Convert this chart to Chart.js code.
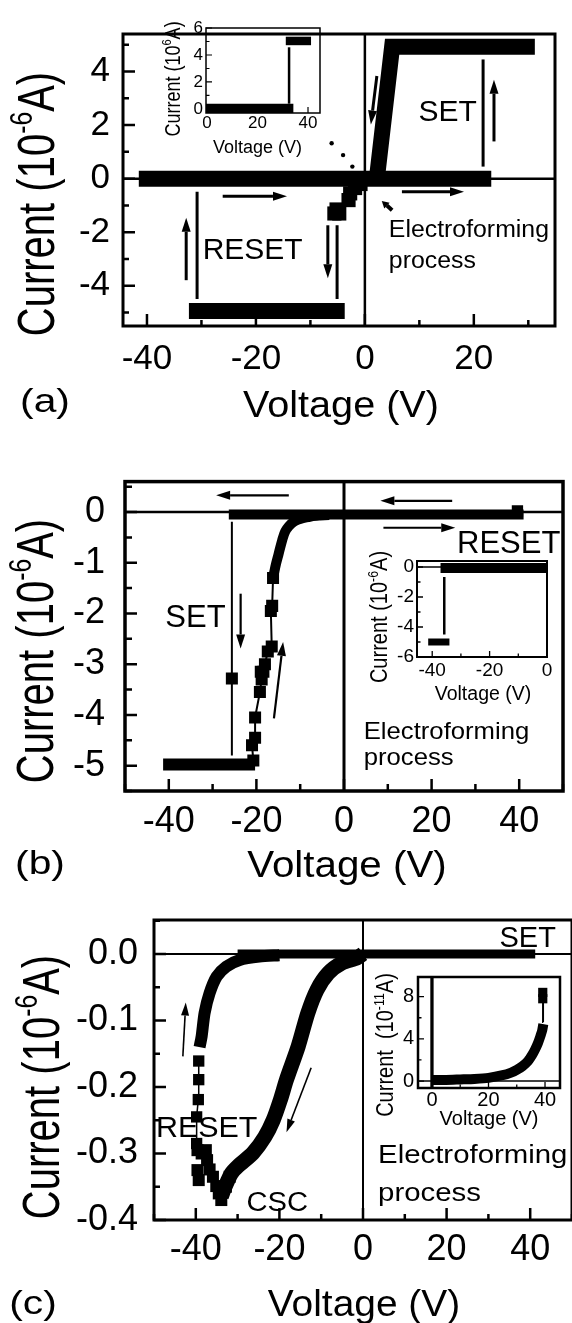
<!DOCTYPE html>
<html>

<head>
    <meta charset="utf-8">
    <title>I-V switching curves</title>
    <script src="https://cdn.jsdelivr.net/npm/chart.js"></script>
    <style>
        body {
            margin: 0;
            background: #fff;
            width: 572px;
            height: 1323px;
            overflow: hidden;
            position: relative;
        }

        canvas {
            position: absolute;
        }
    </style>
</head>

<body>
    <canvas id="chartA" width="572" height="440" style="left:0;top:0"></canvas>
    <canvas id="chartB" width="572" height="470" style="left:0;top:440px"></canvas>
    <canvas id="chartC" width="580" height="443" style="left:0;top:880px"></canvas>
    <canvas id="insetA" width="190" height="160" style="left:150px;top:0"></canvas>
    <canvas id="insetB" width="212" height="172" style="left:360px;top:540px"></canvas>
    <canvas id="insetC" width="207" height="172" style="left:365px;top:960px"></canvas>

    <script>
        // ---- data, [voltage, current] ----
        // (a)
        const aZeroBand = [[-41.5, 0], [23.2, 0]];
        const aSetBranch = [[2.2, 0], [5.0, 4.92], [31.2, 4.92]];
        const aResetBand = [[-32.3, -4.94], [-3.7, -4.94]];
        const aJumpReset = [[-30.8, -0.49], [-30.8, -4.49]];
        const aJumpNeg = [[-5.1, -1.74], [-5.1, -4.49]];
        const aJumpSet = [[21.7, 0.45], [21.7, 4.45]];
        const aStepPts = [[-5.6, -1.3], [-4.7, -1.3], [-5.2, -1.15], [-3.0, -0.8], [-2.7, -0.55], [-1.8, -0.35], [-0.8, -0.2]];
        const aDots = [[-6.1, 1.32], [-4.0, 0.88], [-2.3, 0.45]];
        // (a) inset
        const aInsLow = [[-0.4, 0.02], [34.2, 0.02]];
        const aInsJump = [[32.5, 0.39], [32.5, 4.57]];
        const aInsHigh = [[31.2, 5.04], [41.2, 5.04]];

        // (b)
        const bTopBand = [[-26.3, -0.05], [41.0, -0.05]];
        const bEndPt = [[39.6, 0.02]];
        const bLowBand = [[-41.3, -4.98], [-20.3, -4.98]];
        const bSetJump = [[-25.6, -0.19], [-25.6, -4.8]];
        const bSetPt = [[-25.6, -3.28]];
        const bRecover = [[-20.7, -4.9], [-21.0, -4.6], [-20.3, -4.45], [-20.3, -4.05], [-19.2, -3.55], [-18.8, -3.3],
            [-19.0, -3.15], [-18.4, -3.15], [-18.05, -3.0], [-17.4, -2.75], [-16.5, -2.65], [-16.7, -1.95], [-16.4, -1.85], [-16.2, -1.3]];
        const bKnee = [[-16.2, -1.3], [-15.6, -1.05], [-15.0, -0.85], [-14.5, -0.68], [-14.0, -0.52], [-13.4, -0.38],
            [-12.6, -0.28], [-11.6, -0.2], [-10.5, -0.15], [-9.4, -0.12], [-8.2, -0.1], [-7.1, -0.08], [-5.5, -0.07], [-3.4, -0.06]];
        // (b) inset
        const bInsTop = [[-37.1, -0.07], [0, -0.07]];
        const bInsJump = [[-35.8, -0.67], [-35.8, -4.5]];
        const bInsLow = [[-41.4, -5.0], [-34.0, -5.0]];

        // (c)
        const cSetBand = [[-30, 0], [41.2, 0]];
        const cRightBranch = [[0, 0], [-1.4, -0.006], [-5.1, -0.014], [-8.3, -0.029], [-11.0, -0.054], [-13.2, -0.089],
            [-15.5, -0.139], [-18.3, -0.189], [-19.8, -0.22], [-21.5, -0.25], [-23.5, -0.275], [-26.3, -0.299],
            [-29.9, -0.319], [-31.5, -0.33], [-33.0, -0.35], [-33.9, -0.365]];
        const cBottomPts = [[-33.9, -0.37], [-34.5, -0.36], [-35.1, -0.349], [-35.9, -0.335], [-36.7, -0.324],
            [-37.3, -0.31], [-37.6, -0.295], [-38.6, -0.3], [-39.6, -0.295], [-39.6, -0.325], [-39.3, -0.34],
            [-32.8, -0.35], [-31.9, -0.335]];
        const cLeftLow = [[-39.8, -0.285], [-39.8, -0.245], [-39.4, -0.219], [-39.3, -0.189], [-39.3, -0.161]];
        const cLeftBranch = [[-39.1, -0.14], [-38.6, -0.124], [-37.9, -0.089], [-36.7, -0.059], [-35.0, -0.034],
            [-32.7, -0.019], [-29.5, -0.009], [-24.8, -0.004], [-20, -0.002]];
        // (c) inset, current in 1e-11 A
        const cInsCurve = [[0, 0.1], [5, 0.1], [10, 0.15], [15, 0.2], [20, 0.3], [25, 0.55], [28, 0.8], [30, 1.05],
            [32, 1.4], [34, 1.9], [35.5, 2.5], [36.5, 3.0], [37.5, 3.6], [38.3, 4.2], [39, 4.8], [39.4, 5.4]];
        const cInsJump = [[39.4, 5.6], [39.3, 7.4]];
        const cInsTop = [[39.2, 7.8], [39.2, 8.4]];

        const FONT = "'Liberation Sans', Arial, Helvetica, sans-serif";
        Chart.defaults.font.family = FONT;
        Chart.defaults.color = '#000';

        const P = arr => arr.map(([x, y]) => ({ x, y }));
        const band = (arr, w, tension) => ({
            data: P(arr), showLine: true, borderColor: '#000', borderWidth: w,
            pointRadius: 0, tension: tension || 0
        });
        const squares = (arr, r, lineW) => ({
            data: P(arr), showLine: !!lineW, borderColor: '#000', borderWidth: lineW || 0,
            pointStyle: 'rect', pointRadius: r, pointBackgroundColor: '#000', pointBorderWidth: 0
        });
        const dots = (arr, r) => ({
            data: P(arr), pointStyle: 'circle', pointRadius: r, pointBackgroundColor: '#000', pointBorderWidth: 0
        });

        const isMajor = (v, m) => Math.abs(v / m - Math.round(v / m)) < 1e-6;

        function drawRich(ctx, t) {
            const parts = typeof t.t === 'string' ? [[t.t, 0]] : t.t;
            const size = t.size;
            ctx.save();
            ctx.translate(t.X, t.Y);
            ctx.scale(t.sx || 1, 1);
            ctx.rotate(t.rot || 0);
            const fontOf = p => (p[1] ? size * 0.62 : size) + 'px ' + FONT;
            let w = 0;
            parts.forEach(p => { ctx.font = fontOf(p); w += ctx.measureText(p[0]).width; });
            let cx = t.align === 'center' ? -w / 2 : t.align === 'right' ? -w : 0;
            ctx.textAlign = 'left';
            ctx.textBaseline = 'alphabetic';
            const base = size * 0.358;
            parts.forEach(p => {
                ctx.font = fontOf(p);
                ctx.fillText(p[0], cx, base - (p[1] ? size * 0.42 : 0));
                cx += ctx.measureText(p[0]).width;
            });
            ctx.restore();
        }

        function arrow(ctx, x1, y1, x2, y2, s) {
            const ang = Math.atan2(y2 - y1, x2 - x1);
            const bx = x2 - Math.cos(ang) * s.L, by = y2 - Math.sin(ang) * s.L;
            ctx.lineWidth = s.w;
            ctx.beginPath(); ctx.moveTo(x1, y1); ctx.lineTo(bx, by); ctx.stroke();
            ctx.beginPath();
            ctx.moveTo(x2, y2);
            ctx.lineTo(bx + Math.sin(ang) * s.W, by - Math.cos(ang) * s.W);
            ctx.lineTo(bx - Math.sin(ang) * s.W, by + Math.cos(ang) * s.W);
            ctx.closePath(); ctx.fill();
        }

        // frame, inward ticks, zero lines, arrows and labels
        function deco(c) {
            return {
                id: 'deco',
                beforeDatasetsDraw(chart) {
                    const { ctx, chartArea: a, scales: { x, y } } = chart;
                    ctx.save();
                    ctx.strokeStyle = '#000';
                    if (c.zeroH) {
                        const py = y.getPixelForValue(0);
                        ctx.lineWidth = c.zeroH;
                        ctx.beginPath(); ctx.moveTo(a.left, py); ctx.lineTo(a.right, py); ctx.stroke();
                    }
                    if (c.zeroV) {
                        const px = x.getPixelForValue(0);
                        ctx.lineWidth = c.zeroV;
                        ctx.beginPath(); ctx.moveTo(px, a.top); ctx.lineTo(px, a.bottom); ctx.stroke();
                    }
                    ctx.restore();
                },
                afterDraw(chart) {
                    const { ctx, chartArea: a, scales: { x, y } } = chart;
                    ctx.save();
                    ctx.strokeStyle = '#000';
                    ctx.fillStyle = '#000';
                    ctx.lineWidth = c.tickW;
                    ctx.beginPath();
                    x.ticks.forEach(t => {
                        const px = x.getPixelForValue(t.value);
                        const L = isMajor(t.value, c.x[3]) ? c.tickLen[0] : c.tickLen[1];
                        ctx.moveTo(px, a.bottom); ctx.lineTo(px, a.bottom - L);
                    });
                    y.ticks.forEach(t => {
                        const py = y.getPixelForValue(t.value);
                        const L = isMajor(t.value, c.y[3]) ? c.tickLen[0] : c.tickLen[1];
                        ctx.moveTo(a.left, py); ctx.lineTo(a.left + L, py);
                    });
                    ctx.stroke();
                    ctx.lineWidth = c.frame;
                    ctx.strokeRect(a.left, a.top, a.right - a.left, a.bottom - a.top);
                    (c.arrows || []).forEach(ar => {
                        arrow(ctx, x.getPixelForValue(ar[0]), y.getPixelForValue(ar[1]),
                            x.getPixelForValue(ar[2]), y.getPixelForValue(ar[3]), ar[4] || c.arrow);
                    });
                    (c.texts || []).forEach(t => {
                        const X = t.at ? x.getPixelForValue(t.at[0]) : t.px[0];
                        const Y = t.at ? y.getPixelForValue(t.at[1]) : t.px[1];
                        drawRich(ctx, Object.assign({}, t, { X, Y }));
                    });
                    ctx.restore();
                }
            };
        }

        function makeChart(id, c) {
            const el = document.getElementById(id);
            const tickOpts = (ax, pad) => ({
                stepSize: ax[2], includeBounds: false, autoSkip: false, maxRotation: 0, minRotation: 0,
                maxTicksLimit: 200, padding: pad, font: { size: c.font }, color: '#000',
                callback: v => isMajor(v, ax[3]) ? (ax[4] ? v.toFixed(ax[4]) : String(Math.round(v))) : ''
            });
            return new Chart(el, {
                type: 'scatter',
                data: { datasets: c.datasets },
                options: {
                    responsive: false,
                    animation: false,
                    events: [],
                    layout: {
                        autoPadding: false,
                        padding: { left: 0, top: c.area[1], right: el.width - c.area[2], bottom: 0 }
                    },
                    plugins: { legend: { display: false }, tooltip: { enabled: false } },
                    scales: {
                        x: {
                            type: 'linear', min: c.x[0], max: c.x[1],
                            grid: { display: false, drawTicks: false }, border: { display: false },
                            ticks: tickOpts(c.x, c.pad[1]),
                            afterFit: s => { s.height = el.height - c.area[3]; }
                        },
                        y: {
                            type: 'linear', min: c.y[0], max: c.y[1],
                            grid: { display: false, drawTicks: false }, border: { display: false },
                            ticks: tickOpts(c.y, c.pad[0]),
                            afterFit: s => { s.width = c.area[0]; }
                        }
                    }
                },
                plugins: [deco(c)]
            });
        }

        const R = -Math.PI / 2;
        const curLabel = sup => [['Current (10', 0], [sup, 1], ['A)', 0]];

        // ---- (a) ----
        makeChart('chartA', {
            area: [123, 13, 555, 326], x: [-44.4, 34.9, 10, 20], y: [-5.5, 5.4, 1, 2],
            font: 35, pad: [13, 12], frame: 3, tickW: 2.5, tickLen: [12, 6], zeroH: 2.5, zeroV: 2.5,
            arrow: { w: 3, L: 14, W: 4.5 },
            datasets: [band(aZeroBand, 16), band(aSetBranch, 16), band(aResetBand, 16),
                band(aJumpReset, 3), band(aJumpNeg, 3), band(aJumpSet, 3), squares(aStepPts, 10), dots(aDots, 2.2)],
            arrows: [[2.2, 3.83, 1.1, 2.02], [23.7, 1.39, 23.7, 3.69], [6.8, -0.49, 18.2, -0.49],
                [-26.1, -0.66, -14.3, -0.66], [-32.8, -3.79, -32.8, -1.46], [-6.8, -1.74, -6.8, -3.72],
                [5.0, -1.18, 3.1, -0.83, { w: 4, L: 7, W: 4 }]],
            texts: [
                { t: 'SET', at: [15.2, 2.54], size: 30, align: 'center' },
                { t: 'RESET', at: [-20.6, -2.61], size: 30, align: 'center' },
                { t: 'Electroforming', at: [4.4, -1.88], size: 23, sx: 1.08 },
                { t: 'process', at: [4.4, -3.03], size: 23, sx: 1.08 },
                { t: curLabel('-6'), px: [35, 204], size: 40, rot: R, align: 'center', sx: 1.3 },
                { t: 'Voltage (V)', px: [341, 404], size: 36, align: 'center', sx: 1.1 },
                { t: '(a)', px: [45, 400], size: 34, align: 'center', sx: 1.2 }
            ]
        });

        makeChart('insetA', {
            area: [56, 28, 170, 113], x: [-0.4, 44.75, 10, 20], y: [-0.3, 6, 1, 2],
            font: 17, pad: [3, 0], frame: 1.5, tickW: 1.2, tickLen: [6, 3.5],
            datasets: [band(aInsLow, 10), band(aInsJump, 2.5), band(aInsHigh, 8.5)],
            texts: [
                { t: curLabel('6'), px: [22, 79], size: 18, rot: R, align: 'center', sx: 1.2 },
                { t: 'Voltage (V)', px: [107.5, 147], size: 18, align: 'center' }
            ]
        });

        // ---- (b) ----
        makeChart('chartB', {
            area: [125, 23, 569, 351], x: [-50, 50, 10, 20], y: [-5.5, 0.6, 0.5, 1],
            font: 36, pad: [20, 9], frame: 3.5, tickW: 2.5, tickLen: [12, 7], zeroH: 2.5, zeroV: 3,
            arrow: { w: 2.2, L: 14, W: 4.5 },
            datasets: [band(bTopBand, 10), squares(bEndPt, 8), band(bLowBand, 12), band(bSetJump, 2),
                squares(bSetPt, 8.5), squares(bRecover, 8.5, 2), band(bKnee, 10, 0.2)],
            arrows: [[-12.6, 0.33, -29.2, 0.33], [24.7, 0.22, 8.3, 0.22], [9.0, -0.31, 25.4, -0.31],
                [-23.6, -1.61, -23.6, -2.69], [-16.0, -4.07, -13.9, -2.56]],
            texts: [
                { t: 'SET', at: [-33.9, -2.04], size: 31, align: 'center' },
                { t: 'RESET', at: [37.6, -0.59], size: 31, align: 'center' },
                { t: 'Electroforming', at: [4.5, -4.30], size: 24, sx: 1.07 },
                { t: 'process', at: [4.5, -4.81], size: 24, sx: 1.07 },
                { t: curLabel('-6'), px: [34, 211], size: 40, rot: R, align: 'center', sx: 1.3 },
                { t: 'Voltage (V)', px: [347, 424], size: 36, align: 'center', sx: 1.12 },
                { t: '(b)', px: [40, 422], size: 34, align: 'center', sx: 1.2 }
            ]
        });

        makeChart('insetB', {
            area: [57, 21, 187, 117], x: [-45.3, 0, 10, 20], y: [-6, 0.4, 1, 2],
            font: 19, pad: [3, 2], frame: 2, tickW: 1.3, tickLen: [6, 3.5], zeroH: 1.5,
            datasets: [band(bInsTop, 10), band(bInsJump, 2.5), band(bInsLow, 7)],
            texts: [
                { t: curLabel('-6'), px: [19, 77], size: 20, rot: R, align: 'center', sx: 1.15 },
                { t: 'Voltage (V)', px: [123, 153], size: 19.5, align: 'center' }
            ]
        });

        // ---- (c) ----
        makeChart('chartC', {
            area: [154, 40, 574, 340], x: [-50, 50, 10, 20], y: [-0.4, 0.051, 0.05, 0.1, 1],
            font: 36, pad: [16, 8], frame: 3, tickW: 2.5, tickLen: [12, 6], zeroH: 2, zeroV: 2,
            arrow: { w: 1.6, L: 13, W: 4 },
            datasets: [band(cSetBand, 9), band(cRightBranch, 15, 0.25), squares(cBottomPts, 8.5),
                squares(cLeftLow, 8, 1.5), band(cLeftBranch, 12, 0.25)],
            arrows: [[-43.1, -0.154, -42.4, -0.073], [-12.4, -0.171, -18.3, -0.268]],
            texts: [
                { t: 'SET', at: [39.4, 0.0255], size: 29, align: 'center' },
                { t: 'RESET', at: [-37.4, -0.259], size: 29, align: 'center', sx: 1.05 },
                { t: 'CSC', at: [-20.5, -0.372], size: 27, align: 'center', sx: 1.08 },
                { t: 'Electroforming', at: [3.6, -0.301], size: 26, sx: 1.13 },
                { t: 'process', at: [3.6, -0.357], size: 26, sx: 1.13 },
                { t: curLabel('-6'), px: [40, 207], size: 40, rot: R, align: 'center', sx: 1.3 },
                { t: 'Voltage (V)', px: [364, 423], size: 36, align: 'center', sx: 1.08 },
                { t: '(c)', px: [33, 422], size: 34, align: 'center', sx: 1.2 }
            ]
        });

        makeChart('insetC', {
            area: [53, 17, 195, 128], x: [-4.94, 45.3, 10, 20], y: [-0.66, 9.86, 2, 4],
            font: 20, pad: [4, 0], frame: 2.5, tickW: 1.3, tickLen: [6, 3.5], zeroH: 1.5, zeroV: 3.3,
            datasets: [band(cInsCurve, 10, 0.2), band(cInsJump, 2), squares(cInsTop, 6.5)],
            texts: [
                { t: [['Current  (10', 0], ['-11', 1], ['A)', 0]], px: [20, 85], size: 20, rot: R, align: 'center', sx: 1.15 },
                { t: 'Voltage (V)', px: [124, 158], size: 20, align: 'center' }
            ]
        });
    </script>
</body>

</html>
